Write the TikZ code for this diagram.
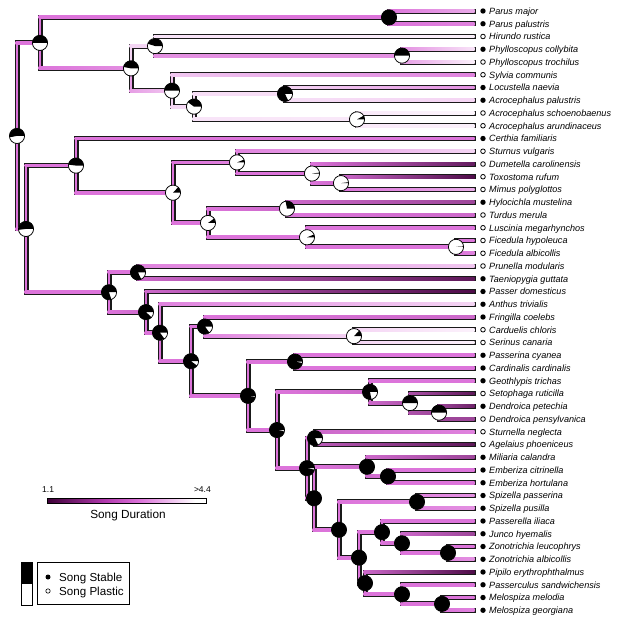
\documentclass[tikz,border=0pt]{standalone}
\usepackage{fontspec}
\setmainfont{Liberation Sans}
\usetikzlibrary{calc}
\definecolor{dk}{HTML}{3E0038}
\definecolor{pk}{HTML}{DC74DA}
\definecolor{mg}{HTML}{B23AAE}
\definecolor{wt}{HTML}{FFFFFF}
\newcommand\mkcol[2]{%
  \pgfmathtruncatemacro\cflag{(#2)<0.5}%
  \ifnum\cflag=1
    \pgfmathsetmacro\cp{(#2)*200}%
    \colorlet{c#1}{pk!\cp!dk}%
  \else
    \pgfmathsetmacro\cp{((#2)-0.5)*200}%
    \colorlet{c#1}{wt!\cp!pk}%
  \fi}
\newcommand\nd[4]{\coordinate (#1) at (#2,#3); \mkcol{#1}{#4}}
\newcommand\pie[2]{%
  \begin{scope}[shift={(#1)},x=1pt,y=1pt]
    \fill[white] (0,0) circle (7.6);
    \fill[black] (0,0) -- (7.6,0) arc[start angle=0, end angle={360*#2}, radius=7.6] -- cycle;
    \draw[line width=0.75pt] (0,0) circle (7.6);
  \end{scope}}
\tikzset{
  outl/.style={draw=black!90, line width=5pt, line cap=rect},
  tipdot1/.style={circle, fill=black, inner sep=0pt, minimum size=5.4pt},
  tipdot0/.style={circle, draw=black, line width=0.8pt, fill=white, inner sep=0pt, minimum size=4.6pt},
  lab/.style={anchor=base west, inner sep=0pt, font=\itshape\fontsize{9.1}{10}\selectfont},
}
\newcommand\tp[5]{%
  \coordinate (#1) at (473.5,#2); \mkcol{#1}{#3}%
  \node[tipdot#4] (d#1) at (483,#2) {};
  \node[lab] (l#1) at (489,#2+3.3) {#5};}
\begin{document}
\begin{tikzpicture}[x=1pt,y=-1pt]
\useasboundingbox (0,0) rectangle (617,624);
% tips
\tp{t1}{11}{0.7}{1}{Parus major}
\tp{t2}{23.75}{0.55}{1}{Parus palustris}
\tp{t3}{36.5}{0.95}{0}{Hirundo rustica}
\tp{t4}{49.25}{0.9}{1}{Phylloscopus collybita}
\tp{t5}{62}{0.95}{0}{Phylloscopus trochilus}
\tp{t6}{74.75}{0.55}{0}{Sylvia communis}
\tp{t7}{87.5}{0.6}{1}{Locustella naevia}
\tp{t8}{100.25}{0.85}{1}{Acrocephalus palustris}
\tp{t9}{113}{0.97}{0}{Acrocephalus schoenobaenus}
\tp{t10}{125.75}{0.95}{0}{Acrocephalus arundinaceus}
\tp{t11}{138.5}{0.5}{1}{Certhia familiaris}
\tp{t12}{151.25}{0.85}{0}{Sturnus vulgaris}
\tp{t13}{164}{0.12}{0}{Dumetella carolinensis}
\tp{t14}{176.75}{0.05}{0}{Toxostoma rufum}
\tp{t15}{189.5}{0.7}{0}{Mimus polyglottos}
\tp{t16}{202.25}{0.3}{1}{Hylocichla mustelina}
\tp{t17}{215}{0.45}{0}{Turdus merula}
\tp{t18}{227.75}{0.5}{0}{Luscinia megarhynchos}
\tp{t19}{240.5}{0.5}{0}{Ficedula hypoleuca}
\tp{t20}{253.25}{0.55}{0}{Ficedula albicollis}
\tp{t21}{266}{0.8}{0}{Prunella modularis}
\tp{t22}{278.75}{0.1}{1}{Taeniopygia guttata}
\tp{t23}{291.5}{0.05}{1}{Passer domesticus}
\tp{t24}{304.25}{0.85}{1}{Anthus trivialis}
\tp{t25}{317}{0.45}{1}{Fringilla coelebs}
\tp{t26}{329.75}{0.95}{0}{Carduelis chloris}
\tp{t27}{342.5}{0.95}{0}{Serinus canaria}
\tp{t28}{355.25}{0.5}{1}{Passerina cyanea}
\tp{t29}{368}{0.5}{1}{Cardinalis cardinalis}
\tp{t30}{380.75}{0.5}{1}{Geothlypis trichas}
\tp{t31}{393.5}{0.1}{0}{Setophaga ruticilla}
\tp{t32}{406.25}{0.15}{1}{Dendroica petechia}
\tp{t33}{419}{0.3}{0}{Dendroica pensylvanica}
\tp{t34}{431.75}{0.55}{0}{Sturnella neglecta}
\tp{t35}{444.5}{0.1}{0}{Agelaius phoeniceus}
\tp{t36}{457.25}{0.3}{1}{Miliaria calandra}
\tp{t37}{470}{0.5}{1}{Emberiza citrinella}
\tp{t38}{482.75}{0.5}{1}{Emberiza hortulana}
\tp{t39}{495.5}{0.6}{1}{Spizella passerina}
\tp{t40}{508.25}{0.6}{1}{Spizella pusilla}
\tp{t41}{521}{0.5}{1}{Passerella iliaca}
\tp{t42}{533.75}{0.3}{1}{Junco hyemalis}
\tp{t43}{546.5}{0.5}{1}{Zonotrichia leucophrys}
\tp{t44}{559.25}{0.6}{1}{Zonotrichia albicollis}
\tp{t45}{572}{0.05}{1}{Pipilo erythrophthalmus}
\tp{t46}{584.75}{0.5}{1}{Passerculus sandwichensis}
\tp{t47}{597.5}{0.5}{1}{Melospiza melodia}
\tp{t48}{610.25}{0.55}{1}{Melospiza georgiana}
% internal nodes
\nd{Ro}{17}{135.9}{0.5}
\nd{A}{40}{42.875}{0.5}
\nd{Pa}{389}{17.375}{0.5}
\nd{B}{131}{68.375}{0.6}
\nd{C}{155}{46.06}{0.85}
\nd{Ph}{402}{55.625}{0.6}
\nd{D}{172}{90.69}{0.8}
\nd{E}{194}{106.625}{0.88}
\nd{F}{285}{93.875}{0.88}
\nd{G}{357}{119.375}{0.92}
\nd{Rt}{26}{228.92}{0.5}
\nd{H}{76}{165.59}{0.5}
\nd{I}{173}{192.69}{0.5}
\nd{J}{237}{162.41}{0.55}
\nd{L}{312}{173.56}{0.5}
\nd{M}{341}{183.125}{0.45}
\nd{K}{208}{222.97}{0.5}
\nd{N}{287}{208.625}{0.45}
\nd{O}{307}{237.31}{0.5}
\nd{P}{456}{246.875}{0.5}
\nd{Q}{109}{292.24}{0.5}
\nd{R}{138}{272.375}{0.5}
\nd{S}{146}{312.11}{0.45}
\nd{T}{160}{332.73}{0.5}
\nd{U}{191}{361.2}{0.5}
\nd{V}{205}{326.56}{0.5}
\nd{X}{354}{336.125}{0.85}
\nd{W}{248}{395.84}{0.5}
\nd{Y}{295}{361.625}{0.5}
\nd{Z}{277}{430.06}{0.5}
\nd{AA}{370}{391.91}{0.45}
\nd{AC}{410}{403.06}{0.35}
\nd{AD}{439}{412.625}{0.3}
\nd{AB}{307}{468.21}{0.5}
\nd{AE}{315}{438.125}{0.45}
\nd{AI}{314}{498.29}{0.5}
\nd{AG}{367}{466.81}{0.45}
\nd{AF}{388}{476.375}{0.5}
\nd{AK}{339}{529.77}{0.5}
\nd{AJ}{417}{501.875}{0.55}
\nd{AL}{359}{557.66}{0.5}
\nd{AM}{382}{532.16}{0.5}
\nd{AO}{402}{543.31}{0.45}
\nd{AP}{448}{552.875}{0.5}
\nd{AN}{365}{583.16}{0.45}
\nd{AQ}{402}{594.31}{0.5}
\nd{AR}{442}{603.875}{0.5}
\def\edges{Ro/A/0.5,Ro/Rt/0.5,A/Pa/0.5,A/B/0.5,Pa/t1/0.5,Pa/t2/0.5,B/C/0.85,B/D/0.65,
C/t3/0.9,C/Ph/0.6,Ph/t4/0.6,Ph/t5/0.65,D/t6/0.8,D/E/0.85,E/F/0.88,E/G/0.9,
F/t7/0.85,F/t8/0.88,G/t9/0.92,G/t10/0.92,
Rt/H/0.5,Rt/Q/0.5,H/t11/0.5,H/I/0.5,I/J/0.5,I/K/0.5,J/t12/0.55,J/L/0.5,
L/t13/0.5,L/M/0.5,M/t14/0.45,M/t15/0.5,K/N/0.5,K/O/0.5,N/t16/0.45,N/t17/0.5,
O/t18/0.5,O/P/0.5,P/t19/0.5,P/t20/0.5,
Q/R/0.5,Q/S/0.5,R/t21/0.55,R/t22/0.45,S/t23/0.45,S/T/0.5,T/t24/0.55,T/U/0.5,
U/V/0.5,U/W/0.5,V/t25/0.5,V/X/0.55,X/t26/0.85,X/t27/0.85,W/Y/0.5,W/Z/0.5,
Y/t28/0.5,Y/t29/0.5,Z/AA/0.5,Z/AB/0.5,AA/t30/0.5,AA/AC/0.45,AC/t31/0.35,AC/AD/0.35,
AD/t32/0.3,AD/t33/0.3,AB/AE/0.5,AB/AI/0.5,AE/t34/0.45,AE/t35/0.4,AI/AG/0.5,AI/AK/0.5,
AG/t36/0.45,AG/AF/0.45,AF/t37/0.5,AF/t38/0.5,AK/AJ/0.5,AK/AL/0.5,AJ/t39/0.55,AJ/t40/0.55,
AL/AM/0.5,AL/AN/0.5,AM/t41/0.5,AM/AO/0.5,AO/t42/0.45,AO/AP/0.5,AP/t43/0.5,AP/t44/0.55,
AN/t45/0.45,AN/AQ/0.5,AQ/t46/0.5,AQ/AR/0.5,AR/t47/0.5,AR/t48/0.5}
% outlines
\foreach \p/\c/\s in \edges { \draw[outl] (\p) |- (\c); }
% coloured interiors
\foreach \p/\c/\s in \edges {
  \mkcol{st}{\s}
  \fill[cst] ($(\p)+(-1.4,0)$) rectangle ($(\p|-\c)+(1.4,0)$);
  \shade[left color=cst, right color=c\c] ($(\p|-\c)+(-1.4,-1.4)$) rectangle ($(\c)+(1,1.4)$);
}
% pies
\pie{Ro}{0.53}\pie{A}{0.5}\pie{Pa}{1}\pie{B}{0.47}\pie{C}{0.45}\pie{Ph}{0.5}
\pie{D}{0.5}\pie{E}{0.4}\pie{F}{0.82}\pie{G}{0.08}
\pie{Rt}{0.52}\pie{H}{0.48}\pie{I}{0.13}\pie{J}{0.06}\pie{L}{0.02}\pie{M}{0.02}
\pie{K}{0.1}\pie{N}{0.28}\pie{O}{0.06}\pie{P}{0.01}
\pie{Q}{0.8}\pie{R}{0.82}\pie{S}{0.88}\pie{T}{0.85}\pie{U}{0.9}\pie{V}{0.85}\pie{X}{0.13}
\pie{W}{0.98}\pie{Y}{0.97}\pie{Z}{0.97}\pie{AA}{0.78}\pie{AC}{0.5}\pie{AD}{0.5}
\pie{AB}{0.97}\pie{AE}{0.82}\pie{AI}{1}\pie{AG}{1}\pie{AF}{1}\pie{AK}{1}\pie{AJ}{1}
\pie{AL}{1}\pie{AM}{1}\pie{AO}{1}\pie{AP}{1}\pie{AN}{1}\pie{AQ}{1}\pie{AR}{1}
% colour bar legend
\shade[left color=dk, right color=mg] (47,498) rectangle (105,503.5);
\shade[left color=mg, right color=pk] (105,498) rectangle (140,503.5);
\shade[left color=pk, right color=white] (140,498) rectangle (195,503.5);
\fill[white] (195,498) rectangle (206,503.5);
\draw[line width=0.6pt] (47,498) rectangle (206,503.5);
\node[anchor=base west, inner sep=0pt, font=\fontsize{8.5}{9}\selectfont] (lo) at (42,492.5) {1.1};
\node[anchor=base east, inner sep=0pt, font=\fontsize{8.5}{9}\selectfont] (hi) at (211,492.5) {>4.4};
\node[anchor=base, inner sep=0pt, font=\fontsize{11.8}{13}\selectfont] (sd) at (128,518) {Song Duration};
% state legend
\fill[black] (21,562) rectangle (32,584);
\draw[line width=0.7pt] (21,562) rectangle (32,605);
\draw[line width=0.7pt] (37,562) rectangle (129,604);
\node[tipdot1, minimum size=5pt] (ls) at (48,577) {};
\node[tipdot0, minimum size=4.4pt, line width=0.6pt] (lp) at (48,591) {};
\node[anchor=base west, inner sep=0pt, font=\fontsize{11.6}{13}\selectfont] (lst) at (59,581) {Song Stable};
\node[anchor=base west, inner sep=0pt, font=\fontsize{11.6}{13}\selectfont] (lpl) at (59,595.5) {Song Plastic};
\end{tikzpicture}
\end{document}
